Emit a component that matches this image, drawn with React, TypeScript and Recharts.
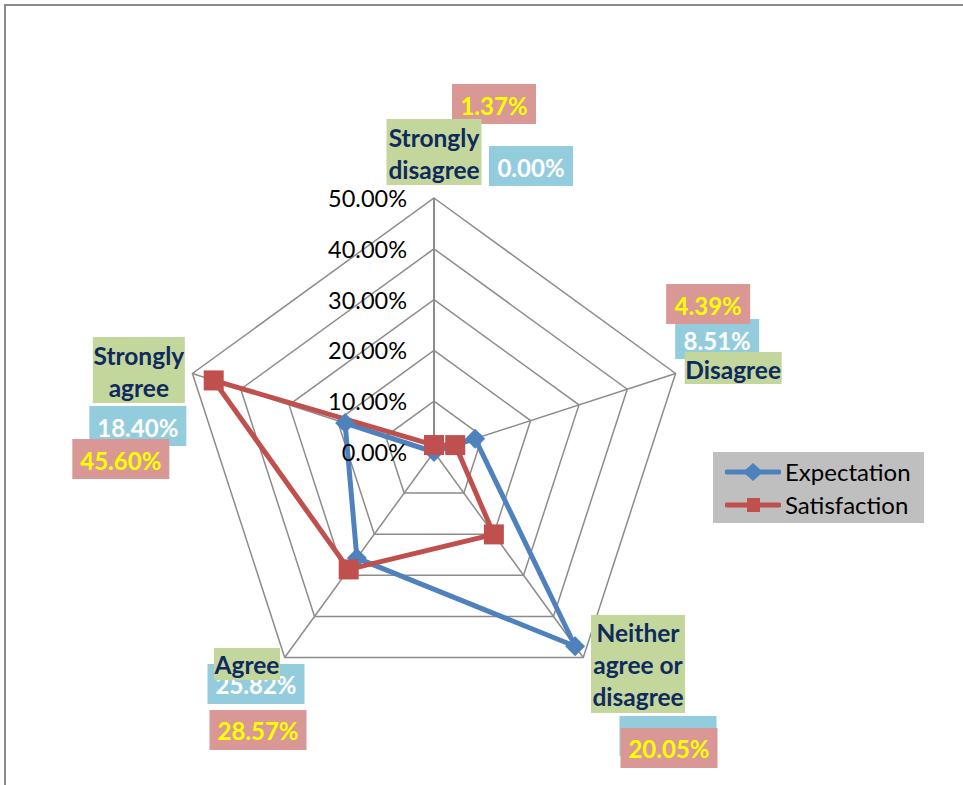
import { type JSX } from 'react'
import {
  RadarChart,
  PolarGrid,
  PolarAngleAxis,
  PolarRadiusAxis,
  Radar,
  Legend,
} from 'recharts'

const CATEGORIES = ['Strongly disagree', 'Disagree', 'Neither agree or disagree', 'Agree', 'Strongly agree']
const CATEGORY_LINES = [['Strongly', 'disagree'], ['Disagree'], ['Neither', 'agree or', 'disagree'], ['Agree'], ['Strongly', 'agree']]
const EXPECTATION = [0.0, 8.51, 47.27, 25.82, 18.4]
const SATISFACTION = [1.37, 4.39, 20.05, 28.57, 45.6]
const RADIUS_TICKS = [0, 10, 20, 30, 40, 50]
const SERIES_NAMES = ['Expectation', 'Satisfaction']

const data = CATEGORIES.map((name, i) => ({
  name,
  expectation: EXPECTATION[i],
  satisfaction: SATISFACTION[i],
}))

const BLUE = '#4F81BD'
const RED = '#C0504D'
const GRID = '#8c8c8c'
const GREEN_BG = '#C3D69B'
const BLUE_BG = '#93CDDD'
const PINK_BG = '#D99795'
const NAVY = '#0f2a5c'
const FONT = 'Lato, "Open Sans", sans-serif'

// offsets of label boxes (centre) from each angle tick point: green = category, blue = expectation, pink = satisfaction
const LABEL_LAYOUT = [
  { green: [0, -38, 95, 66], blue: [97, -24], pink: [60, -86] },
  { green: [50, -3, 97, 32], blue: [34, -32], pink: [25, -67] },
  { green: [50, 0, 94, 98], blue: [80, 72], pink: [81, 84] },
  { green: [-33, 0, 66, 32], blue: [-24, 20], pink: [-22, 66] },
  { green: [-46, -1, 92, 66], blue: [-47, 55], pink: [-64, 88] },
]

const fmt = (v: number) => `${v.toFixed(2)}%`

const ValueBox = ({ x, y, text, bg, color }: { x: number; y: number; text: string; bg: string; color: string }) => {
  const w = 84 + 13 * (text.length - 5)
  const h = 40
  return (
    <g>
      <rect x={x - w / 2} y={y - h / 2} width={w} height={h} fill={bg} />
      <text
        x={x}
        y={y + 1}
        textAnchor="middle"
        dominantBaseline="central"
        fontFamily={FONT}
        fontWeight={700}
        fontSize={24}
        fill={color}
      >
        {text}
      </text>
    </g>
  )
}

const AngleTick = (props: any): JSX.Element => {
  const { x, y, payload } = props
  const i = CATEGORIES.indexOf(payload.value)
  const l = LABEL_LAYOUT[i]
  const lines = CATEGORY_LINES[i]
  const [gx, gy, gw, gh] = l.green
  const cx = x + gx
  const cy = y + gy
  return (
    <g>
      <ValueBox x={x + l.blue[0]} y={y + l.blue[1]} text={fmt(EXPECTATION[i])} bg={BLUE_BG} color="#ffffff" />
      <ValueBox x={x + l.pink[0]} y={y + l.pink[1]} text={fmt(SATISFACTION[i])} bg={PINK_BG} color="#ffff00" />
      <rect x={cx - gw / 2} y={cy - gh / 2} width={gw} height={gh} fill={GREEN_BG} />
      {lines.map((line, k) => (
        <text
          key={line + k}
          x={cx}
          y={cy + (k - (lines.length - 1) / 2) * 32 + 1}
          textAnchor="middle"
          dominantBaseline="central"
          fontFamily={FONT}
          fontWeight={700}
          fontSize={24.5}
          fill={NAVY}
        >
          {line}
        </text>
      ))}
    </g>
  )
}

const RadiusTick = (props: any): JSX.Element => (
  <text
    x={props.x - 27}
    y={props.y}
    textAnchor="end"
    dominantBaseline="central"
    fontFamily={FONT}
    fontSize={23.5}
    fill="#000"
  >
    {fmt(props.payload.value)}
  </text>
)

const Diamond = (props: any): JSX.Element => {
  const { cx, cy, index } = props
  const s = 10
  return (
    <path
      key={`dia-${index}`}
      d={`M${cx},${cy - s} L${cx + s},${cy} L${cx},${cy + s} L${cx - s},${cy} Z`}
      fill={BLUE}
    />
  )
}

const Square = (props: any): JSX.Element => {
  const { cx, cy, index } = props
  return <rect key={`sq-${index}`} x={cx - 10} y={cy - 10} width={20} height={20} fill={RED} />
}

const LegendBox = (): JSX.Element => (
  <div style={{ position: 'relative', width: 211, height: 71, background: '#BFBFBF' }}>
    {SERIES_NAMES.map((name, i) => (
      <div key={name} style={{ position: 'absolute', left: 12, top: 20 + i * 33 - 12, height: 24, display: 'flex', alignItems: 'center' }}>
        <svg width={56} height={24}>
          <line x1={2} y1={12} x2={54} y2={12} stroke={i === 0 ? BLUE : RED} strokeWidth={5} strokeLinecap="round" />
          {i === 0 ? (
            <path d="M28,3 L38,12 L28,21 L18,12 Z" fill={BLUE} />
          ) : (
            <rect x={22} y={5} width={13} height={14} fill={RED} />
          )}
        </svg>
        <span style={{ marginLeft: 4, fontFamily: FONT, fontSize: 24, color: '#000', lineHeight: '24px' }}>{name}</span>
      </div>
    ))}
  </div>
)

export default function App(): JSX.Element {
  return (
    <div style={{ position: 'absolute', left: 0, top: 0, width: 963, height: 785, background: '#fff', overflow: 'hidden' }}>
      <div
        style={{
          position: 'absolute',
          left: 4,
          top: 4,
          width: 959,
          height: 781,
          borderTop: '2px solid #8a8a8a',
          borderLeft: '2px solid #8a8a8a',
        }}
      />
      <div style={{ position: 'absolute', left: 0, top: 0 }}>
        <RadarChart
          width={963}
          height={785}
          data={data}
          cx={434}
          cy={452}
          outerRadius={254}
          margin={{ top: 0, right: 0, bottom: 0, left: 0 }}
        >
          <PolarGrid gridType="polygon" stroke={GRID} strokeWidth={1.5} />
          <PolarRadiusAxis
            angle={90}
            type="number"
            domain={[0, 50]}
            ticks={RADIUS_TICKS}
            tickCount={6}
            axisLine={{ stroke: GRID, strokeWidth: 2 }}
            tick={RadiusTick}
          />
          <PolarAngleAxis dataKey="name" tick={AngleTick} tickLine={false} axisLine={false} />
          <Radar
            name={SERIES_NAMES[0]}
            dataKey="expectation"
            stroke={BLUE}
            strokeWidth={5}
            strokeLinejoin="round"
            fill="none"
            fillOpacity={0}
            dot={Diamond}
            isAnimationActive={false}
          />
          <Radar
            name={SERIES_NAMES[1]}
            dataKey="satisfaction"
            stroke={RED}
            strokeWidth={5}
            strokeLinejoin="round"
            fill="none"
            fillOpacity={0}
            dot={Square}
            isAnimationActive={false}
          />
          <Legend
            layout="vertical"
            align="center"
            verticalAlign="middle"
            content={() => <LegendBox />}
            wrapperStyle={{ left: 713, top: 452, width: 211, height: 71 }}
          />
        </RadarChart>
      </div>
    </div>
  )
}
